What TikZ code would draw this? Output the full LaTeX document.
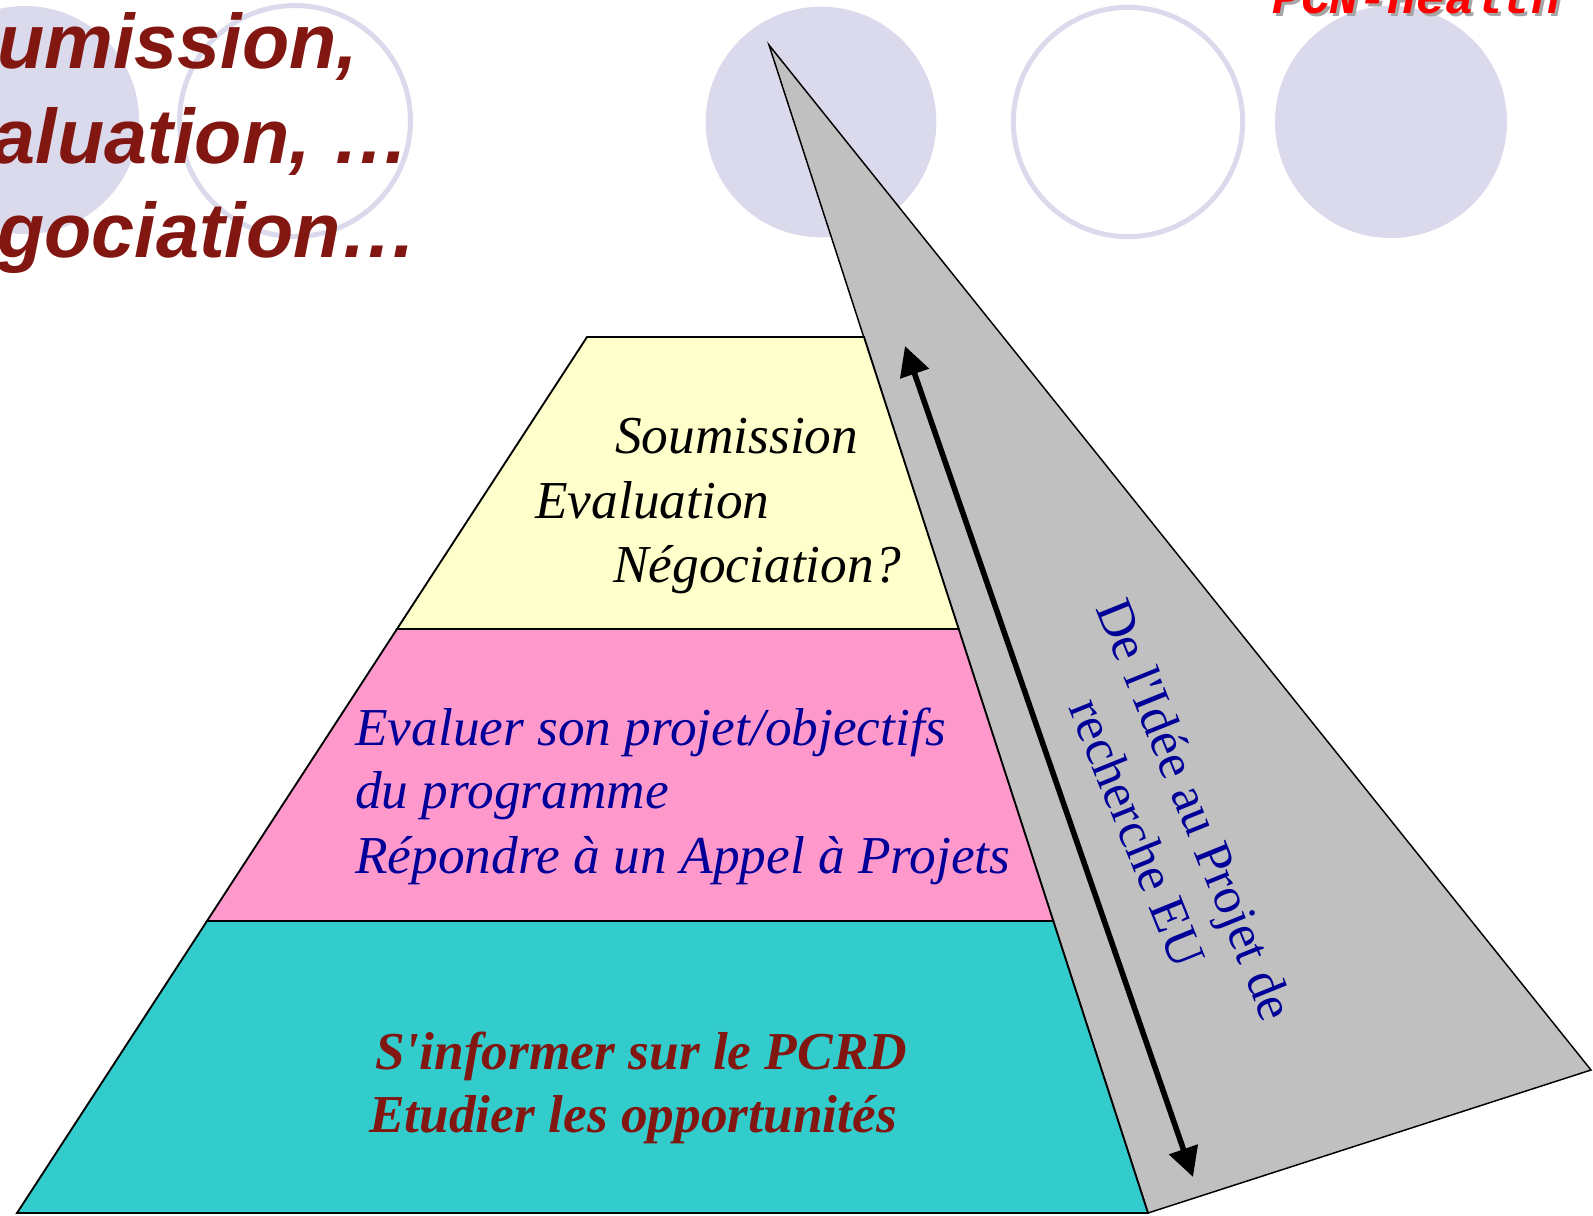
\documentclass[tikz,border=0pt]{standalone}
\usepackage{fontspec}
\setmainfont{Liberation Serif}
\newfontfamily\sansfont{Liberation Sans}
\newfontfamily\courfont{Liberation Mono}
\usetikzlibrary{arrows.meta}
\definecolor{lavande}{RGB}{218,218,236}
\definecolor{gris}{RGB}{192,192,192}
\definecolor{jaune}{RGB}{255,255,204}
\definecolor{rose}{RGB}{255,153,204}
\definecolor{turquoise}{RGB}{51,204,204}
\definecolor{bordeaux}{RGB}{130,22,16}
\definecolor{marine}{RGB}{0,0,153}
\definecolor{ombre}{RGB}{165,165,165}
\newcommand{\gd}        {\fontsize{40}{48}\selectfont}
\newcommand{\apos}      {\textquotesingle}

\begin{document}
\begin{tikzpicture}[x=0.75pt,y=-0.75pt,
   txt/.style={anchor=base west,inner sep=0pt,font=\gd\itshape},
   titre/.style={anchor=base west,inner sep=0pt,text=bordeaux,
      font=\sansfont\fontsize{58}{71}\selectfont\bfseries\itshape},
   couche/.style={draw=black,line width=1.4pt},
   fleche/.style={{Triangle[length=22pt,width=22pt]}-{Triangle[length=22pt,width=22pt]},
      line width=4.2pt}]
   \useasboundingbox (0,0) rectangle (1593,1215);
   \clip (0,0) rectangle (1593,1215);
   % cercles du fond
   \fill[lavande] (25,120) circle (85.5pt);
   \draw[lavande,line width=3.75pt] (295,121) circle (86.6pt);
   \fill[lavande] (821,122) circle (86.5pt);
   \draw[lavande,line width=3.75pt] (1128,122) circle (86pt);
   \fill[lavande] (1391,122) circle (87pt);
   \node[anchor=base west,inner sep=0pt,text=ombre,
      font=\courfont\fontsize{36}{36}\selectfont\bfseries\itshape] (pcnombre) at (1275,16) {PCN-Health};
   \node[anchor=base west,inner sep=0pt,text=red,
      font=\courfont\fontsize{36}{36}\selectfont\bfseries\itshape] (pcn) at (1272,13) {PCN-Health};
   \node[titre] (titre1) at (-102,68)  {Soumission,};
   \node[titre] (titre2) at (-102,163) {Evaluation, …};
   \node[titre] (titre3) at (-102,257) {Négociation…};
   % triangle gris
   \filldraw[fill=gris,line width=1.1pt] (769,45) -- (1591,1070) -- (1148,1213) -- cycle;
   % pyramide
   \filldraw[couche,fill=jaune] (587,337) -- (864,337) -- (958.7,629) -- (397,629) -- cycle;
   \filldraw[couche,fill=rose] (397,629) -- (958.7,629) -- (1053.3,921) -- (207,921) -- cycle;
   \filldraw[couche,fill=turquoise] (207,921) -- (1053.3,921) -- (1148,1213) -- (17,1213) -- cycle;
   \node[txt] (soum) at (615,453) {Soumission};
   \node[txt] (eval) at (535,518) {Evaluation};
   \node[txt] (nego) at (613,582) {Négociation?};
   \node[txt,text=marine] (projet)  at (355,745) {Evaluer son projet/objectifs};
   \node[txt,text=marine] (progr)   at (355,808) {du programme};
   \node[txt,text=marine] (appel)   at (355,873) {Répondre à un Appel à Projets};
   \node[txt,text=bordeaux,font=\gd\bfseries\itshape] (pcrd)  at (375,1069) {S\apos informer sur le PCRD};
   \node[txt,text=bordeaux,font=\gd\bfseries\itshape] (etude) at (369,1132) {Etudier les opportunités};
   % fleche et texte incline
   \coordinate (hautfl) at (905,346);
   \coordinate (basfl) at (1193,1177);
   \draw[fleche] (hautfl) -- (basfl);
   \node[rotate=-68,align=center,text=marine,inner sep=0pt,
      font=\fontsize{39}{47}\selectfont] (idee) at (1167,821)
      {De l\apos Idée au Projet de\\recherche EU};
\end{tikzpicture}
\end{document}
